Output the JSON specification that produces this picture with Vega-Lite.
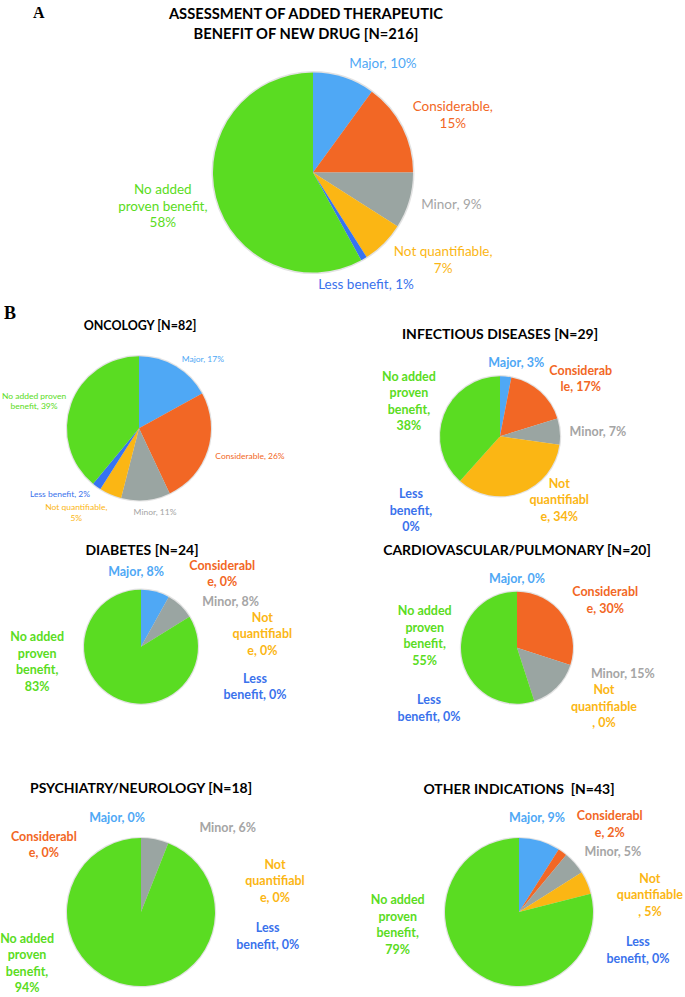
{
  "$schema": "https://vega.github.io/schema/vega-lite/v6.json",
  "background": "white",
  "padding": {"left": 0, "top": 4.6, "right": 0, "bottom": 0},
  "config": {
    "view": {"stroke": null},
    "font": "Lato",
    "title": {"font": "Lato", "fontSize": 14, "fontWeight": "bold", "color": "#000000", "anchor": "middle", "frame": "group"}
  },
  "title": {"text": "A", "anchor": "start", "frame": "group", "font": "Liberation Serif", "fontSize": 16, "fontWeight": "bold", "offset": -13.8, "dx": 33},
  "align": "none",
  "spacing": 8.7,
  "datasets": {
    "benefit": [
      {"panel": "All", "category": "Major", "rank": 1, "pct": 10, "label": "Major, 10%"},
      {"panel": "All", "category": "Considerable", "rank": 2, "pct": 15, "label": "Considerable,|15%"},
      {"panel": "All", "category": "Minor", "rank": 3, "pct": 9, "label": "Minor, 9%"},
      {"panel": "All", "category": "Not quantifiable", "rank": 4, "pct": 7, "label": "Not quantifiable,|7%"},
      {"panel": "All", "category": "Less benefit", "rank": 5, "pct": 1, "label": "Less benefit, 1%"},
      {"panel": "All", "category": "No added proven benefit", "rank": 6, "pct": 58, "label": "No added|proven benefit,|58%"},
      {"panel": "Oncology", "category": "Major", "rank": 1, "pct": 17, "label": "Major, 17%"},
      {"panel": "Oncology", "category": "Considerable", "rank": 2, "pct": 26, "label": "Considerable, 26%"},
      {"panel": "Oncology", "category": "Minor", "rank": 3, "pct": 11, "label": "Minor, 11%"},
      {"panel": "Oncology", "category": "Not quantifiable", "rank": 4, "pct": 5, "label": "Not quantifiable,|5%"},
      {"panel": "Oncology", "category": "Less benefit", "rank": 5, "pct": 2, "label": "Less benefit, 2%"},
      {"panel": "Oncology", "category": "No added proven benefit", "rank": 6, "pct": 39, "label": "No added proven|benefit, 39%"},
      {"panel": "Infectious", "category": "Major", "rank": 1, "pct": 3, "label": "Major, 3%"},
      {"panel": "Infectious", "category": "Considerable", "rank": 2, "pct": 17, "label": "Considerab|le, 17%"},
      {"panel": "Infectious", "category": "Minor", "rank": 3, "pct": 7, "label": "Minor, 7%"},
      {"panel": "Infectious", "category": "Not quantifiable", "rank": 4, "pct": 34, "label": "Not|quantifiabl|e, 34%"},
      {"panel": "Infectious", "category": "Less benefit", "rank": 5, "pct": 0, "label": "Less|benefit,|0%"},
      {"panel": "Infectious", "category": "No added proven benefit", "rank": 6, "pct": 38, "label": "No added|proven|benefit,|38%"},
      {"panel": "Diabetes", "category": "Major", "rank": 1, "pct": 8, "label": "Major, 8%"},
      {"panel": "Diabetes", "category": "Considerable", "rank": 2, "pct": 0, "label": "Considerabl|e, 0%"},
      {"panel": "Diabetes", "category": "Minor", "rank": 3, "pct": 8, "label": "Minor, 8%"},
      {"panel": "Diabetes", "category": "Not quantifiable", "rank": 4, "pct": 0, "label": "Not|quantifiabl|e, 0%"},
      {"panel": "Diabetes", "category": "Less benefit", "rank": 5, "pct": 0, "label": "Less|benefit, 0%"},
      {"panel": "Diabetes", "category": "No added proven benefit", "rank": 6, "pct": 83, "label": "No added|proven|benefit,|83%"},
      {"panel": "Cardio", "category": "Major", "rank": 1, "pct": 0, "label": "Major, 0%"},
      {"panel": "Cardio", "category": "Considerable", "rank": 2, "pct": 30, "label": "Considerabl|e, 30%"},
      {"panel": "Cardio", "category": "Minor", "rank": 3, "pct": 15, "label": "Minor, 15%"},
      {"panel": "Cardio", "category": "Not quantifiable", "rank": 4, "pct": 0, "label": "Not|quantifiable|, 0%"},
      {"panel": "Cardio", "category": "Less benefit", "rank": 5, "pct": 0, "label": "Less|benefit, 0%"},
      {"panel": "Cardio", "category": "No added proven benefit", "rank": 6, "pct": 55, "label": "No added|proven|benefit,|55%"},
      {"panel": "Psych", "category": "Major", "rank": 1, "pct": 0, "label": "Major, 0%"},
      {"panel": "Psych", "category": "Considerable", "rank": 2, "pct": 0, "label": "Considerabl|e, 0%"},
      {"panel": "Psych", "category": "Minor", "rank": 3, "pct": 6, "label": "Minor, 6%"},
      {"panel": "Psych", "category": "Not quantifiable", "rank": 4, "pct": 0, "label": "Not|quantifiabl|e, 0%"},
      {"panel": "Psych", "category": "Less benefit", "rank": 5, "pct": 0, "label": "Less|benefit, 0%"},
      {"panel": "Psych", "category": "No added proven benefit", "rank": 6, "pct": 94, "label": "No added|proven|benefit,|94%"},
      {"panel": "Other", "category": "Major", "rank": 1, "pct": 9, "label": "Major, 9%"},
      {"panel": "Other", "category": "Considerable", "rank": 2, "pct": 2, "label": "Considerabl|e, 2%"},
      {"panel": "Other", "category": "Minor", "rank": 3, "pct": 5, "label": "Minor, 5%"},
      {"panel": "Other", "category": "Not quantifiable", "rank": 4, "pct": 5, "label": "Not|quantifiable|, 5%"},
      {"panel": "Other", "category": "Less benefit", "rank": 5, "pct": 0, "label": "Less|benefit, 0%"},
      {"panel": "Other", "category": "No added proven benefit", "rank": 6, "pct": 79, "label": "No added|proven|benefit,|79%"}
    ]
  },
  "vconcat": [
    {
      "width": 626, "height": 248,
      "title": {"text": ["ASSESSMENT OF ADDED THERAPEUTIC", "BENEFIT OF NEW DRUG [N=216]"], "fontSize": 14.7, "lineHeight": 20, "offset": 6.7, "dx": -7},
      "data": {"name": "benefit"},
      "transform": [{"filter": "datum.panel === 'All'"}],
      "encoding": {"theta": {"field": "pct", "type": "quantitative", "stack": "normalize"}, "order": {"field": "rank", "type": "quantitative"}},
      "layer": [
        {"mark": {"type": "arc", "outerRadius": 101.5, "color": "#e2e2e2"}},
        {"mark": {"type": "arc", "outerRadius": 100}, "encoding": {"color": {"field": "category", "type": "nominal", "legend": null, "scale": {"domain": ["Major", "Considerable", "Minor", "Not quantifiable", "Less benefit", "No added proven benefit"], "range": ["#4FA8F5", "#F26725", "#9AA5A2", "#FBB614", "#3673F2", "#5ADC22"]}}}},
        {"mark": {"type": "text", "lineBreak": "|", "font": "Lato", "fontSize": 13.5, "lineHeight": 16.5, "align": "center", "baseline": "middle",
          "dy": {"expr": "-(length(split(datum.label, '|')) - 1) * 8.25"},
          "radius": {"expr": "[129.5, 151, 142, 157, 124, 154][datum.rank - 1]"},
          "thetaOffset": {"expr": "PI / 180 * [14.7, 4.8, -3.2, -11, 5.3, 1.6][datum.rank - 1]"}},
         "encoding": {"text": {"field": "label"}, "fill": {"field": "category", "type": "nominal", "legend": null, "scale": {"domain": ["Major", "Considerable", "Minor", "Not quantifiable", "Less benefit", "No added proven benefit"], "range": ["#4FA8F5", "#F26725", "#A5A5A5", "#FBB614", "#3A72EC", "#5ADC22"]}}}}
      ]
    },
    {
      "title": {"text": "B", "anchor": "start", "frame": "group", "font": "Liberation Serif", "fontSize": 18, "fontWeight": "bold", "offset": -3.3, "dx": 4},
      "align": "none",
      "spacing": 9.4,
      "vconcat": [
        {
          "bounds": "flush", "align": "none", "spacing": 122,
          "hconcat": [
            {
              "width": 278, "height": 180,
              "title": {"text": "ONCOLOGY [N=82]", "fontSize": 12.5, "offset": 5.6, "dx": 1},
              "data": {"name": "benefit"},
              "transform": [{"filter": "datum.panel === 'Oncology'"}],
              "encoding": {"theta": {"field": "pct", "type": "quantitative", "stack": "normalize"}, "order": {"field": "rank", "type": "quantitative"}},
              "layer": [
                {"mark": {"type": "arc", "outerRadius": 73.2, "color": "#e2e2e2"}},
                {"mark": {"type": "arc", "outerRadius": 72}, "encoding": {"color": {"field": "category", "type": "nominal", "legend": null, "scale": {"domain": ["Major", "Considerable", "Minor", "Not quantifiable", "Less benefit", "No added proven benefit"], "range": ["#4FA8F5", "#F26725", "#9AA5A2", "#FBB614", "#3673F2", "#5ADC22"]}}}},
                {"mark": {"type": "text", "lineBreak": "|", "font": "Lato", "fontSize": 8.5, "lineHeight": 10.5, "align": "center", "baseline": "middle",
                  "dy": {"expr": "-(length(split(datum.label, '|')) - 1) * 5.25"},
                  "radius": {"expr": "[94, 114.5, 85.5, 105, 103, 108.5][datum.rank - 1]"},
                  "thetaOffset": {"expr": "PI / 180 * [12.2, -3.8, -5.4, 13.3, 14.1, -5.1][datum.rank - 1]"}},
                 "encoding": {"text": {"field": "label"}, "fill": {"field": "category", "type": "nominal", "legend": null, "scale": {"domain": ["Major", "Considerable", "Minor", "Not quantifiable", "Less benefit", "No added proven benefit"], "range": ["#4FA8F5", "#F26725", "#A5A5A5", "#FBB614", "#3A72EC", "#5ADC22"]}}}}
              ]
            },
            {
              "width": 200, "height": 196,
              "title": {"text": "INFECTIOUS DISEASES [N=29]", "offset": -3.4},
              "data": {"name": "benefit"},
              "transform": [{"filter": "datum.panel === 'Infectious'"}],
              "encoding": {"theta": {"field": "pct", "type": "quantitative", "stack": "normalize"}, "order": {"field": "rank", "type": "quantitative"}},
              "layer": [
                {"mark": {"type": "arc", "outerRadius": 61.2, "color": "#e2e2e2"}},
                {"mark": {"type": "arc", "outerRadius": 60}, "encoding": {"color": {"field": "category", "type": "nominal", "legend": null, "scale": {"domain": ["Major", "Considerable", "Minor", "Not quantifiable", "Less benefit", "No added proven benefit"], "range": ["#4FA8F5", "#F26725", "#9AA5A2", "#FBB614", "#3673F2", "#5ADC22"]}}}},
                {"mark": {"type": "text", "lineBreak": "|", "font": "Lato", "fontSize": 12.5, "fontWeight": "bold", "lineHeight": 16.5, "align": "center", "baseline": "middle",
                  "dy": {"expr": "-(length(split(datum.label, '|')) - 1) * 8.25"},
                  "radius": {"expr": "[75, 99, 98, 87, 116, 97.5][datum.rank - 1]"},
                  "thetaOffset": {"expr": "PI / 180 * [7, 12.8, 2.2, -22.9, 8.3, 0][datum.rank - 1]"}},
                 "encoding": {"text": {"field": "label"}, "fill": {"field": "category", "type": "nominal", "legend": null, "scale": {"domain": ["Major", "Considerable", "Minor", "Not quantifiable", "Less benefit", "No added proven benefit"], "range": ["#4FA8F5", "#F26725", "#A5A5A5", "#FBB614", "#3A72EC", "#5ADC22"]}}}}
              ]
            }
          ]
        },
        {
          "align": "none", "spacing": 43.4,
          "vconcat": [
            {
              "bounds": "flush", "align": "none", "spacing": 135,
              "hconcat": [
                {
                  "width": 282, "height": 180,
                  "title": {"text": "DIABETES [N=24]", "offset": -1.4, "dx": 1},
                  "data": {"name": "benefit"},
                  "transform": [{"filter": "datum.panel === 'Diabetes'"}],
                  "encoding": {"theta": {"field": "pct", "type": "quantitative", "stack": "normalize"}, "order": {"field": "rank", "type": "quantitative"}},
                  "layer": [
                    {"mark": {"type": "arc", "outerRadius": 58.2, "color": "#e2e2e2"}},
                    {"mark": {"type": "arc", "outerRadius": 57}, "encoding": {"color": {"field": "category", "type": "nominal", "legend": null, "scale": {"domain": ["Major", "Considerable", "Minor", "Not quantifiable", "Less benefit", "No added proven benefit"], "range": ["#4FA8F5", "#F26725", "#9AA5A2", "#FBB614", "#3673F2", "#5ADC22"]}}}},
                    {"mark": {"type": "text", "lineBreak": "|", "font": "Lato", "fontSize": 12.5, "fontWeight": "bold", "lineHeight": 16.5, "align": "center", "baseline": "middle",
                      "dy": {"expr": "-(length(split(datum.label, '|')) - 1) * 8.25"},
                      "radius": {"expr": "[75, 109, 100, 122, 121, 105][datum.rank - 1]"},
                      "thetaOffset": {"expr": "PI / 180 * [-18.3, 19.1, 20.1, 25.9, 51.4, 52.4][datum.rank - 1]"}},
                     "encoding": {"text": {"field": "label"}, "fill": {"field": "category", "type": "nominal", "legend": null, "scale": {"domain": ["Major", "Considerable", "Minor", "Not quantifiable", "Less benefit", "No added proven benefit"], "range": ["#4FA8F5", "#F26725", "#A5A5A5", "#FBB614", "#3A72EC", "#5ADC22"]}}}}
                  ]
                },
                {
                  "width": 200, "height": 182,
                  "title": {"text": "CARDIOVASCULAR/PULMONARY [N=20]", "offset": -1.4},
                  "data": {"name": "benefit"},
                  "transform": [{"filter": "datum.panel === 'Cardio'"}],
                  "encoding": {"theta": {"field": "pct", "type": "quantitative", "stack": "normalize"}, "order": {"field": "rank", "type": "quantitative"}},
                  "layer": [
                    {"mark": {"type": "arc", "outerRadius": 57.2, "color": "#e2e2e2"}},
                    {"mark": {"type": "arc", "outerRadius": 56}, "encoding": {"color": {"field": "category", "type": "nominal", "legend": null, "scale": {"domain": ["Major", "Considerable", "Minor", "Not quantifiable", "Less benefit", "No added proven benefit"], "range": ["#4FA8F5", "#F26725", "#9AA5A2", "#FBB614", "#3673F2", "#5ADC22"]}}}},
                    {"mark": {"type": "text", "lineBreak": "|", "font": "Lato", "fontSize": 12.5, "fontWeight": "bold", "lineHeight": 16.5, "align": "center", "baseline": "middle",
                      "dy": {"expr": "-(length(split(datum.label, '|')) - 1) * 8.25"},
                      "radius": {"expr": "[69, 100, 109, 105, 107, 93][datum.rank - 1]"},
                      "thetaOffset": {"expr": "PI / 180 * [0, 7.9, -31.2, -37.9, 73.3, 16.1][datum.rank - 1]"}},
                     "encoding": {"text": {"field": "label"}, "fill": {"field": "category", "type": "nominal", "legend": null, "scale": {"domain": ["Major", "Considerable", "Minor", "Not quantifiable", "Less benefit", "No added proven benefit"], "range": ["#4FA8F5", "#F26725", "#A5A5A5", "#FBB614", "#3A72EC", "#5ADC22"]}}}}
                  ]
                }
              ]
            },
            {
              "bounds": "flush", "align": "none", "spacing": 137,
              "hconcat": [
                {
                  "width": 282, "height": 172,
                  "title": {"text": "PSYCHIATRY/NEUROLOGY [N=18]", "offset": 15.35},
                  "data": {"name": "benefit"},
                  "transform": [{"filter": "datum.panel === 'Psych'"}],
                  "encoding": {"theta": {"field": "pct", "type": "quantitative", "stack": "normalize"}, "order": {"field": "rank", "type": "quantitative"}},
                  "layer": [
                    {"mark": {"type": "arc", "outerRadius": 75.2, "color": "#e2e2e2"}},
                    {"mark": {"type": "arc", "outerRadius": 74}, "encoding": {"color": {"field": "category", "type": "nominal", "legend": null, "scale": {"domain": ["Major", "Considerable", "Minor", "Not quantifiable", "Less benefit", "No added proven benefit"], "range": ["#4FA8F5", "#F26725", "#9AA5A2", "#FBB614", "#3673F2", "#5ADC22"]}}}},
                    {"mark": {"type": "text", "lineBreak": "|", "font": "Lato", "fontSize": 12.5, "fontWeight": "bold", "lineHeight": 16.5, "align": "center", "baseline": "middle",
                      "dy": {"expr": "-(length(split(datum.label, '|')) - 1) * 8.25"},
                      "radius": {"expr": "[97.5, 118, 121, 137.5, 129, 125][datum.rank - 1]"},
                      "thetaOffset": {"expr": "PI / 180 * [-14.2, -55.4, 35, 55.4, 79.3, 54.9][datum.rank - 1]"}},
                     "encoding": {"text": {"field": "label"}, "fill": {"field": "category", "type": "nominal", "legend": null, "scale": {"domain": ["Major", "Considerable", "Minor", "Not quantifiable", "Less benefit", "No added proven benefit"], "range": ["#4FA8F5", "#F26725", "#A5A5A5", "#FBB614", "#3A72EC", "#5ADC22"]}}}}
                  ]
                },
                {
                  "width": 200, "height": 172,
                  "title": {"text": "OTHER INDICATIONS\u00a0 [N=43]", "offset": 13.35},
                  "data": {"name": "benefit"},
                  "transform": [{"filter": "datum.panel === 'Other'"}],
                  "encoding": {"theta": {"field": "pct", "type": "quantitative", "stack": "normalize"}, "order": {"field": "rank", "type": "quantitative"}},
                  "layer": [
                    {"mark": {"type": "arc", "outerRadius": 75.2, "color": "#e2e2e2"}},
                    {"mark": {"type": "arc", "outerRadius": 74}, "encoding": {"color": {"field": "category", "type": "nominal", "legend": null, "scale": {"domain": ["Major", "Considerable", "Minor", "Not quantifiable", "Less benefit", "No added proven benefit"], "range": ["#4FA8F5", "#F26725", "#9AA5A2", "#FBB614", "#3673F2", "#5ADC22"]}}}},
                    {"mark": {"type": "text", "lineBreak": "|", "font": "Lato", "fontSize": 12.5, "fontWeight": "bold", "lineHeight": 16.5, "align": "center", "baseline": "middle",
                      "dy": {"expr": "-(length(split(datum.label, '|')) - 1) * 8.25"},
                      "radius": {"expr": "[96, 126, 111.5, 132, 125, 122][datum.rank - 1]"},
                      "thetaOffset": {"expr": "PI / 180 * [-5.4, 10.1, 8.8, 16, 32.3, 46.1][datum.rank - 1]"}},
                     "encoding": {"text": {"field": "label"}, "fill": {"field": "category", "type": "nominal", "legend": null, "scale": {"domain": ["Major", "Considerable", "Minor", "Not quantifiable", "Less benefit", "No added proven benefit"], "range": ["#4FA8F5", "#F26725", "#A5A5A5", "#FBB614", "#3A72EC", "#5ADC22"]}}}}
                  ]
                }
              ]
            }
          ]
        }
      ]
    }
  ]
}
